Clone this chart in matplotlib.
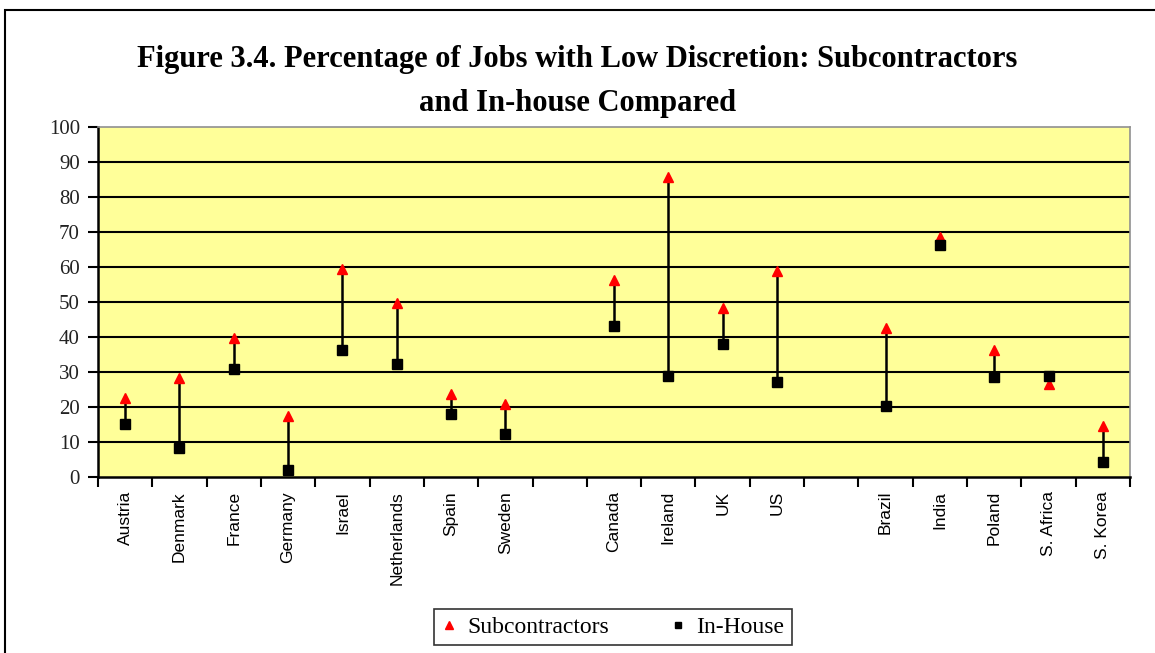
import numpy as np
import matplotlib
matplotlib.use('Agg')
import matplotlib.pyplot as plt
from matplotlib.lines import Line2D
from matplotlib.patches import Rectangle

# Data (empty names are the gaps between country groups)
countries = ['Austria', 'Denmark', 'France', 'Germany', 'Israel', 'Netherlands', 'Spain', 'Sweden', '',
             'Canada', 'Ireland', 'UK', 'US', '',
             'Brazil', 'India', 'Poland', 'S. Africa', 'S. Korea']
subcontractors = [22.7, 28.3, 39.8, 17.4, 59.3, 49.6, 23.6, 20.9, np.nan,
                  56.4, 85.7, 48.2, 58.9, np.nan,
                  42.6, 68.6, 36.3, 26.5, 14.6]
inhouse = [15.1, 8.2, 31.0, 1.9, 36.3, 32.3, 17.9, 12.2, np.nan,
           43.2, 28.8, 38.0, 27.1, np.nan,
           20.2, 66.3, 28.5, 28.8, 4.2]
yticks = list(range(0, 101, 10))

sub = np.array(subcontractors, dtype=float)
inh = np.array(inhouse, dtype=float)
x = np.arange(len(countries)) + 0.5

fig = plt.figure(figsize=(11.55, 6.53), dpi=100)
fig.patches.append(Rectangle((5 / 1155, -0.1), 1.2, 1 - 10 / 653 + 0.1, transform=fig.transFigure,
                             fill=False, edgecolor='black', linewidth=1.5))

ax = fig.add_axes([98 / 1155, 1 - 477 / 653, (1130 - 98) / 1155, 350 / 653])
ax.set_facecolor('#FFFF99')

ok = ~np.isnan(sub)
ax.vlines(x[ok], np.minimum(sub, inh)[ok], np.maximum(sub, inh)[ok], color='black', linewidth=1.8, zorder=3)
ax.plot(x, sub, linestyle='none', marker='^', color='#FF0000', markersize=7, zorder=4)
ax.plot(x, inh, linestyle='none', marker='s', color='black', markersize=6.5, zorder=5)

ax.set_xlim(0, len(countries))
ax.set_ylim(0, 100)
ax.set_yticks(yticks)
ax.set_yticklabels([str(t) for t in yticks], family='Liberation Serif', fontsize=15, color='#222222')
for t in yticks[1:-1]:
    ax.axhline(t, color='black', linewidth=1.5, zorder=1)

ax.set_xticks(np.arange(len(countries) + 1))
ax.set_xticklabels([])
ax.set_xticks(x, minor=True)
ax.set_xticklabels(countries, minor=True, rotation=90, family='Liberation Sans', fontsize=12.5, va='top')
ax.tick_params(axis='x', which='minor', length=0, pad=10)
ax.tick_params(axis='x', which='major', length=7, width=1.5, direction='out')
ax.tick_params(axis='y', length=7, width=1.5, direction='out', pad=6)

for s in ['left', 'bottom']:
    ax.spines[s].set_linewidth(1.8)
    ax.spines[s].set_color('black')
for s in ['top', 'right']:
    ax.spines[s].set_linewidth(1.2)
    ax.spines[s].set_color('#909090')

fig.text(0.5, 1 - 60 / 653, 'Figure 3.4. Percentage of Jobs with Low Discretion: Subcontractors',
         ha='center', va='center', family='Liberation Serif', weight='bold', fontsize=22)
fig.text(0.5, 1 - 103 / 653, 'and In-house Compared',
         ha='center', va='center', family='Liberation Serif', weight='bold', fontsize=22)

handles = [Line2D([], [], linestyle='none', marker='^', color='#FF0000', markersize=6),
           Line2D([], [], linestyle='none', marker='s', color='black', markersize=5)]
leg = fig.legend(handles, ['Subcontractors', 'In-House'], loc='center', bbox_to_anchor=(613 / 1155, 1 - 627 / 653),
                 ncol=2, frameon=True, fancybox=False, edgecolor='black', handlelength=0.6, handletextpad=0.5,
                 columnspacing=2.6, prop={'family': 'Liberation Serif', 'size': 17}, borderpad=0.3,
                 borderaxespad=0.0)
leg.get_frame().set_linewidth(1.2)

fig.savefig('out.png', dpi=100)
